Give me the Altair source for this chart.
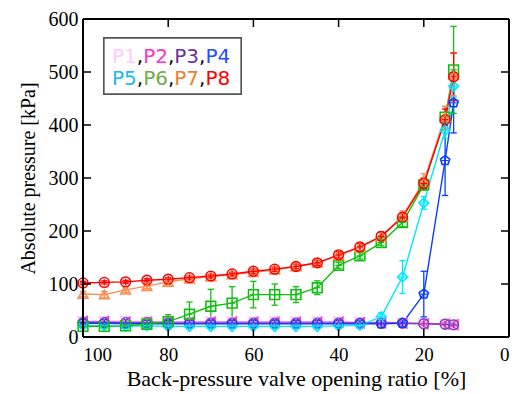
import altair as alt
import pandas as pd

# ---- data ----
x_open = [100, 95, 90, 85, 80, 75, 70, 65, 60, 55, 50, 45, 40, 35, 30, 25, 20, 15, 13]

P1 = [30, 30, 30, 29, 29, 29, 29, 29, 29, 29, 29, 29, 29, 28, 28, 27, 26, 25, 24]
P2 = [29, 29, 28, 28, 28, 28, 28, 28, 28, 28, 28, 28, 28, 27, 27, 26, 25, 24, 23]
P3 = [27, 27, 27, 27, 26, 26, 26, 26, 26, 26, 26, 26, 26, 26, 26, 26, 25, 24, 23]
P4 = [26, 26, 25, 25, 25, 25, 25, 25, 25, 25, 25, 25, 25, 25, 25, 26, 81, 333, 442]
P5 = [22, 21, 20, 21, 20, 20, 20, 20, 20, 20, 20, 20, 21, 22, 38, 113, 253, 390, 473]
P6 = [20, 20, 21, 24, 29, 43, 58, 64, 80, 80, 80, 93, 135, 153, 178, 216, 287, 415, 504]
P7 = [81, 80, 89, 96, 104, 110, 114, 118, 122, 127, 133, 140, 154, 169, 190, 228, 293, 415, 495]
P8 = [102, 103, 104, 107, 109, 112, 115, 119, 124, 128, 133, 140, 155, 170, 190, 226, 290, 410, 491]

E1 = [2] * 19
E2 = [2] * 19
E3 = [2] * 19
E4 = [2, 2, 2, 2, 2, 2, 2, 2, 2, 2, 2, 2, 2, 2, 2, 3, 43, 66, 57]
E5 = [2, 2, 2, 2, 2, 2, 2, 2, 2, 2, 2, 2, 2, 3, 8, 31, 12, 15, 20]
E6 = [3, 3, 3, 4, 13, 23, 32, 31, 25, 20, 15, 13, 6, 6, 6, 8, 10, 20, 82]
E7 = [5, 6, 5, 5, 5, 4, 4, 4, 4, 4, 4, 4, 5, 6, 8, 10, 15, 20, 40]
E8 = [3, 3, 3, 3, 3, 3, 3, 3, 4, 4, 4, 5, 6, 7, 8, 8, 10, 20, 45]

names = ["P1", "P2", "P3", "P4", "P5", "P6", "P7", "P8"]
line_colors = ["#ffc4f2", "#ff44cc", "#8040c0", "#0a3cff", "#00e8ff", "#10c010", "#ff8a50", "#ff0000"]
legend_colors = ["#ffccff", "#ff33cc", "#7030a0", "#1f4fff", "#20b8f4", "#70ad47", "#ed7d31", "#ff0000"]
pentagon = "M0,-1L0.951,-0.309L0.588,0.809L-0.588,0.809L-0.951,-0.309Z"
shapes = ["triangle-down", "triangle-left", "circle", pentagon, "diamond", "square", "triangle-up", "circle"]

series = [P1, P2, P3, P4, P5, P6, P7, P8]
errs = [E1, E2, E3, E4, E5, E6, E7, E8]

x_ticks = [80, 60, 40, 20]
y_ticks = [100, 200, 300, 400, 500]
x_lim = [100, 0]
y_lim = [0, 600]

rows = []
for n, s, e in zip(names, series, errs):
    for xv, yv, ev in zip(x_open, s, e):
        rows.append({"series": n, "xv": xv, "yv": yv, "lo": yv - ev, "hi": yv + ev})
df = pd.DataFrame(rows)

W, H = 426, 318
xs = alt.Scale(domain=x_lim, nice=False, padding=0, zero=False)
ys = alt.Scale(domain=y_lim, nice=False, padding=0)
col = alt.Scale(domain=names, range=line_colors)
shp = alt.Scale(domain=names, range=shapes)

X = alt.X("xv:Q", scale=xs,
          axis=alt.Axis(values=[100, 80, 60, 40, 20, 0], ticks=False, domain=False, grid=False,
                        labelFont="Liberation Serif", labelFontSize=19, labelColor="black",
                        labelPadding=8, title="Back-pressure valve opening ratio [%]",
                        titleFont="Liberation Serif", titleFontSize=22, titleFontWeight="normal",
                        titleColor="black", titlePadding=4))
Y = alt.Y("yv:Q", scale=ys,
          axis=alt.Axis(values=[0, 100, 200, 300, 400, 500, 600], ticks=False, domain=False, grid=False,
                        labelFont="Liberation Serif", labelFontSize=20, labelColor="black",
                        labelPadding=5, title="Absolute pressure [kPa]",
                        titleFont="Liberation Serif", titleFontSize=20, titleFontWeight="normal",
                        titleColor="black", titlePadding=10))

base = alt.Chart(df)
color = alt.Color("series:N", scale=col, legend=None)

lines = base.mark_line(strokeWidth=1.4, clip=True).encode(
    x=X, y=Y, color=color, order=alt.Order("xv:Q", sort="descending"))
bars = base.mark_rule(strokeWidth=1.3).encode(x="xv:Q", y="lo:Q", y2="hi:Q", color=color)
cap_shape = "M-1,0L1,0"
caps_hi = base.mark_point(filled=False, size=40, strokeWidth=1.3, opacity=1, shape=cap_shape).encode(
    x="xv:Q", y="hi:Q", color=color)
caps_lo = base.mark_point(filled=False, size=40, strokeWidth=1.3, opacity=1, shape=cap_shape).encode(
    x="xv:Q", y="lo:Q", color=color)
pts = base.mark_point(filled=False, size=95, strokeWidth=1.6, opacity=1).encode(
    x="xv:Q", y="yv:Q", color=color, shape=alt.Shape("series:N", scale=shp, legend=None))
plus = base.mark_point(filled=False, size=40, strokeWidth=1.2, opacity=1,
                       shape="M-1,0L1,0M0,-1L0,1").encode(x="xv:Q", y="yv:Q", color=color)

# frame drawn on the data scales
fx = pd.DataFrame({"v": x_lim})
fy = pd.DataFrame({"v": y_lim})
frame_v = alt.Chart(fx).mark_rule(color="black", strokeWidth=2).encode(
    x="v:Q", y=alt.datum(y_lim[0]), y2=alt.datum(y_lim[1]))
frame_h = alt.Chart(fy).mark_rule(color="black", strokeWidth=2).encode(
    y="v:Q", x=alt.datum(x_lim[0]), x2=alt.datum(x_lim[1]))

# inward ticks on all four sides
xt = pd.DataFrame({"v": x_ticks})
yt = pd.DataFrame({"v": y_ticks})
tb = alt.Chart(xt).mark_rule(color="black", strokeWidth=1.5).encode(x="v:Q", y=alt.value(H), y2=alt.value(H - 8))
tt = alt.Chart(xt).mark_rule(color="black", strokeWidth=1.5).encode(x="v:Q", y=alt.value(0), y2=alt.value(8))
tl = alt.Chart(yt).mark_rule(color="black", strokeWidth=1.5).encode(y="v:Q", x=alt.value(0), x2=alt.value(8))
tr = alt.Chart(yt).mark_rule(color="black", strokeWidth=1.5).encode(y="v:Q", x=alt.value(W), x2=alt.value(W - 8))

# legend box with coloured labels
cw = {"P": 12.06, ",": 6.36}
legend_rows = []
for line_i, group in enumerate([names[:4], names[4:]]):
    cx = 29.0
    baseline = 43.5 if line_i == 0 else 66.0
    for k, n in enumerate(group):
        legend_rows.append({"t": n, "px": cx, "py": baseline, "c": legend_colors[names.index(n)]})
        cx += cw["P"] + 12.72
        if k < 3:
            legend_rows.append({"t": ",", "px": cx, "py": baseline, "c": "black"})
            cx += cw[","]
ldf = pd.DataFrame(legend_rows)
box = alt.Chart(ldf).mark_rect(fill="white", stroke="#555555", strokeWidth=1.3).encode(
    x=alt.value(21), x2=alt.value(158), y=alt.value(19), y2=alt.value(75))
ltext = alt.Chart(ldf).mark_text(font="DejaVu Sans", fontSize=20, align="left", baseline="alphabetic").encode(
    x=alt.X("px:Q", scale=None), y=alt.Y("py:Q", scale=None), text="t:N", color=alt.Color("c:N", scale=None))

chart = alt.layer(lines, bars, caps_hi, caps_lo, pts, plus, frame_v, frame_h, tb, tt, tl, tr, box, ltext).resolve_scale(
    x="shared", y="shared"
).properties(
    width=W, height=H,
    autosize=alt.AutoSizeParams(type="none"),
    padding={"left": 75, "top": 11, "right": 4, "bottom": 56},
).configure_view(stroke=None).configure(background="white")

chart.save("out.html", embed_options={"renderer": "svg", "actions": False})
